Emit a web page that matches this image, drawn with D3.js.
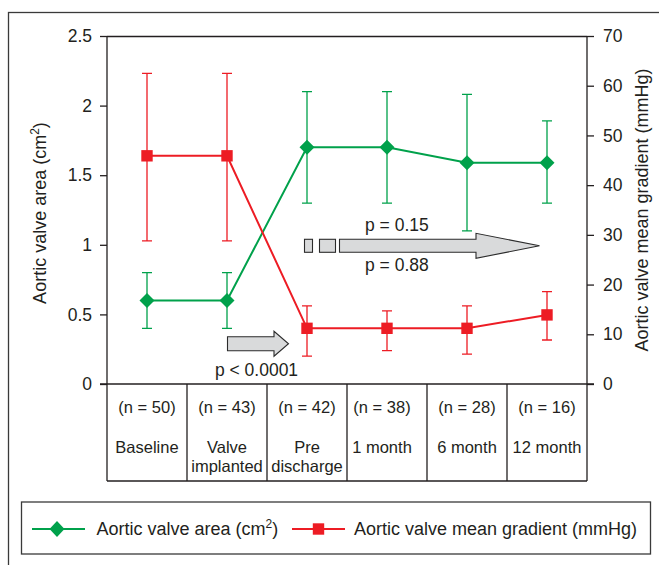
<!DOCTYPE html>
<html>
<head>
<meta charset="utf-8">
<script src="https://cdn.jsdelivr.net/npm/d3@7/dist/d3.min.js"></script>
<style>
html,body{margin:0;padding:0;background:#fff;}
svg{display:block;font-family:"Liberation Sans",Arial,Helvetica,sans-serif;}
</style>
</head>
<body>
<svg id="chart" width="659" height="565"></svg>
<script>
// ---- data ----
const categories = ["Baseline", "Valve implanted", "Pre discharge", "1 month", "6 month", "12 month"];
const categoryLines = [["Baseline"], ["Valve", "implanted"], ["Pre", "discharge"], ["1 month"], ["6 month"], ["12 month"]];
const nCounts = [50, 43, 42, 38, 28, 16];
const areaMean = [0.6, 0.6, 1.7, 1.7, 1.59, 1.59];
const areaLow  = [0.4, 0.4, 1.3, 1.3, 1.1, 1.3];
const areaHigh = [0.8, 0.8, 2.1, 2.1, 2.08, 1.89];
const gradMean = [45.9, 45.9, 11.2, 11.2, 11.2, 13.9];
const gradLow  = [28.8, 28.8, 5.6, 6.7, 6.0, 8.85];
const gradHigh = [62.5, 62.5, 15.7, 14.7, 15.7, 18.6];
const leftTicks = [0, 0.5, 1, 1.5, 2, 2.5];
const rightTicks = [0, 10, 20, 30, 40, 50, 60, 70];
const leftTickLabels = ["0", "0.5", "1", "1.5", "2", "2.5"];
const pLabels = ["p < 0.0001", "p = 0.15", "p = 0.88"];

// ---- layout ----
const svg = d3.select("#chart");
const L = 107, R = 587, T = 36, B = 384, tableBottom = 481;
const GREEN = "#00a14b", RED = "#ed1c24", INK = "#231f20";

const x = d3.scaleBand().domain(categories).range([L, R]).padding(0);
const xc = i => x(categories[i]) + x.bandwidth() / 2;
const yL = d3.scaleLinear().domain([0, 2.5]).range([B, T]);
const yR = d3.scaleLinear().domain([0, 70]).range([B, T]);

// outer frame (extends past right/bottom edges)
svg.append("rect").attr("x", 8.5).attr("y", 12.5).attr("width", 700).attr("height", 600)
  .attr("fill", "none").attr("stroke", "#3a3a3a").attr("stroke-width", 1.3);

// plot frame top
svg.append("line").attr("x1", L).attr("x2", R).attr("y1", T + 0.5).attr("y2", T + 0.5)
  .attr("stroke", INK).attr("stroke-width", 1.3);

// axes
const axL = d3.axisLeft(yL).tickValues(leftTicks).tickFormat((d, i) => leftTickLabels[i]).tickSize(7).tickPadding(8);
const axR = d3.axisRight(yR).tickValues(rightTicks).tickSize(7).tickPadding(9);
function styleAxis(g) {
  g.select(".domain").attr("stroke", INK).attr("stroke-width", 1.3);
  g.selectAll(".tick line").attr("stroke", INK).attr("stroke-width", 1.3);
  g.selectAll(".tick text").attr("fill", INK).attr("font-size", 17.5)
    .attr("font-family", "Liberation Sans, Arial, sans-serif");
}
svg.append("g").attr("transform", `translate(${L},0)`).call(axL).call(styleAxis)
  .call(g => g.select(".domain").attr("d", `M0,${T}V${B}`));
svg.append("g").attr("transform", `translate(${R},0)`).call(axR).call(styleAxis)
  .call(g => g.select(".domain").attr("d", `M0,${T}V${B}`));

// axis titles
const tL = svg.append("text").attr("transform", "translate(46,213) rotate(-90)")
  .attr("text-anchor", "middle").attr("font-size", 18).attr("fill", INK);
tL.append("tspan").text("Aortic valve area (cm");
tL.append("tspan").attr("dy", -7).attr("font-size", 12).text("2");
tL.append("tspan").attr("dy", 7).text(")");

svg.append("text").attr("transform", "translate(648,210) rotate(-90)")
  .attr("text-anchor", "middle").attr("font-size", 18).attr("fill", INK)
  .text("Aortic valve mean gradient (mmHg)");

// table
svg.append("line").attr("x1", L - 7).attr("x2", R + 7).attr("y1", B).attr("y2", B)
  .attr("stroke", INK).attr("stroke-width", 1.5);
svg.append("line").attr("x1", L).attr("x2", R).attr("y1", tableBottom).attr("y2", tableBottom)
  .attr("stroke", INK).attr("stroke-width", 1.3);
const bounds = categories.map(c => x(c)).concat([R]);
svg.selectAll("line.col").data(bounds).enter().append("line").attr("class", "col")
  .attr("x1", d => d).attr("x2", d => d).attr("y1", B).attr("y2", tableBottom)
  .attr("stroke", INK).attr("stroke-width", 1.3);
categories.forEach((c, i) => {
  const tx = xc(i) + (i === 3 ? -5 : 0);
  svg.append("text").attr("x", tx).attr("y", 413).attr("text-anchor", "middle")
    .attr("font-size", 16.5).attr("fill", INK).text(`(n = ${nCounts[i]})`);
  categoryLines[i].forEach((ln, j) => {
    svg.append("text").attr("x", tx).attr("y", 452.5 + j * 19.5).attr("text-anchor", "middle")
      .attr("font-size", 16.5).attr("fill", INK).text(ln);
  });
});

// arrows (annotation)
const arrowFill = "#d9dadb", arrowStroke = "#2b2b2b";
function arrowPath(x0, x1, tip, cy, bh, hh) {
  return `M${x0},${cy - bh}H${x1}V${cy - hh}L${tip},${cy}L${x1},${cy + hh}V${cy + bh}H${x0}Z`;
}
// arrow 1: valve implanted -> pre discharge
const a1y = yR(8.1);
svg.append("path").attr("d", arrowPath(xc(1) + 0.5, xc(1) + 47, xc(2) - 18.5, a1y, 7, 12.5))
  .attr("fill", arrowFill).attr("stroke", arrowStroke).attr("stroke-width", 1.1);
// arrow 2: pre discharge -> 12 month, broken tail
const a2y = yR(27.8);
svg.append("rect").attr("x", xc(2) - 2.5).attr("y", a2y - 6.5).attr("width", 8).attr("height", 13)
  .attr("fill", arrowFill).attr("stroke", arrowStroke).attr("stroke-width", 1.1);
svg.append("rect").attr("x", xc(2) + 12.5).attr("y", a2y - 6.5).attr("width", 16).attr("height", 13)
  .attr("fill", arrowFill).attr("stroke", arrowStroke).attr("stroke-width", 1.1);
svg.append("path").attr("d", arrowPath(xc(2) + 32.5, xc(5) - 71, xc(5) - 7.5, a2y, 6.5, 12.5))
  .attr("fill", arrowFill).attr("stroke", arrowStroke).attr("stroke-width", 1.1);

svg.append("text").attr("x", 256.5).attr("y", 375.5).attr("text-anchor", "middle")
  .attr("font-size", 17.5).attr("fill", INK).text(pLabels[0]);
svg.append("text").attr("x", 365).attr("y", 230.5).attr("font-size", 17.5).attr("fill", INK).text(pLabels[1]);
svg.append("text").attr("x", 365).attr("y", 270.5).attr("font-size", 17.5).attr("fill", INK).text(pLabels[2]);

// series drawing
function drawSeries(mean, low, high, y, color, marker) {
  const g = svg.append("g");
  const idx = d3.range(categories.length);
  const cap = 5;
  g.selectAll("path.err").data(idx).enter().append("path").attr("class", "err")
    .attr("d", i => `M${xc(i) - cap},${y(high[i])}H${xc(i) + cap}M${xc(i)},${y(high[i])}V${y(low[i])}M${xc(i) - cap},${y(low[i])}H${xc(i) + cap}`)
    .attr("fill", "none").attr("stroke", color).attr("stroke-width", 1.3);
  g.append("path").datum(idx)
    .attr("d", d3.line().x(i => xc(i)).y(i => y(mean[i])))
    .attr("fill", "none").attr("stroke", color).attr("stroke-width", 2);
  g.selectAll("path.mk").data(idx).enter().append("path").attr("class", "mk")
    .attr("transform", i => `translate(${xc(i)},${y(mean[i])})`)
    .attr("d", marker).attr("fill", color);
}
const diamond = "M0,-7.5L7.5,0L0,7.5L-7.5,0Z";
const square = "M-5.7,-5.7H5.7V5.7H-5.7Z";
drawSeries(areaMean, areaLow, areaHigh, yL, GREEN, diamond);
drawSeries(gradMean, gradLow, gradHigh, yR, RED, square);

// legend
svg.append("rect").attr("x", 21.5).attr("y", 502).attr("width", 629).attr("height", 52)
  .attr("fill", "none").attr("stroke", "#3a3a3a").attr("stroke-width", 1.3);
const ly = 529;
svg.append("line").attr("x1", 32).attr("x2", 85).attr("y1", ly).attr("y2", ly).attr("stroke", GREEN).attr("stroke-width", 2);
svg.append("path").attr("transform", `translate(57,${ly})`).attr("d", "M0,-8L7.5,0L0,8L-7.5,0Z").attr("fill", GREEN);
const lt1 = svg.append("text").attr("x", 96.5).attr("y", 535).attr("font-size", 18).attr("fill", INK);
lt1.append("tspan").text("Aortic valve area (cm");
lt1.append("tspan").attr("dy", -7).attr("font-size", 12).text("2");
lt1.append("tspan").attr("dy", 7).text(")");
svg.append("line").attr("x1", 292).attr("x2", 345).attr("y1", ly).attr("y2", ly).attr("stroke", RED).attr("stroke-width", 2);
svg.append("path").attr("transform", `translate(318.5,${ly})`).attr("d", square).attr("fill", RED);
svg.append("text").attr("x", 354).attr("y", 535).attr("font-size", 18).attr("fill", INK)
  .text("Aortic valve mean gradient (mmHg)");
</script>
</body>
</html>
